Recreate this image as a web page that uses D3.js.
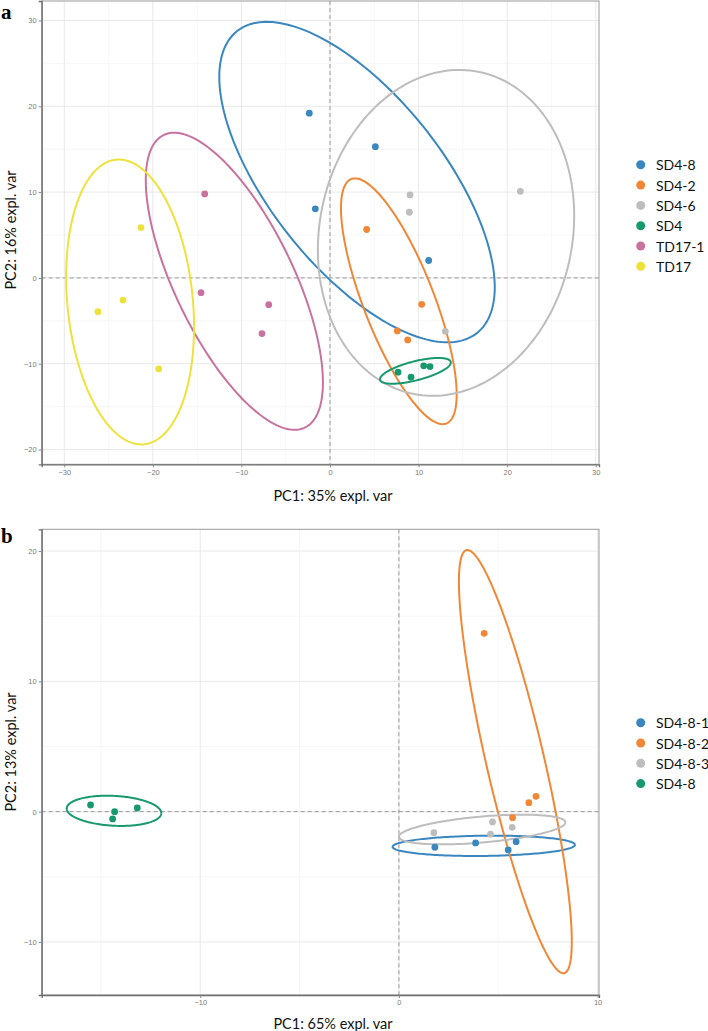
<!DOCTYPE html>
<html><head><meta charset="utf-8">
<script src="https://cdn.jsdelivr.net/npm/d3@7"></script>
<style>
html,body{margin:0;padding:0;background:#fff;}
svg{display:block;}
</style></head>
<body>
<svg id="chart" width="708" height="1031"></svg>
<script>
// ---------- Panel a data ----------
const groupsA = ["SD4-8","SD4-2","SD4-6","SD4","TD17-1","TD17"];
const colorsA = ["#3A87C0","#F08736","#BDBDBD","#18996D","#C8739F","#EDE23C"];
const ptsA_SD48  = [[-2.34,19.2],[-1.66,8.05],[5.12,15.29],[11.14,2.03]];
const ptsA_SD42  = [[4.14,5.64],[10.35,-3.08],[7.6,-6.18],[8.77,-7.23]];
const ptsA_SD46  = [[9.03,9.67],[8.96,7.65],[21.49,10.09],[13.02,-6.22]];
const ptsA_SD4   = [[7.68,-10.99],[9.15,-11.57],[10.58,-10.25],[11.29,-10.33]];
const ptsA_TD171 = [[-14.15,9.79],[-14.56,-1.72],[-6.92,-3.12],[-7.68,-6.49]];
const ptsA_TD17  = [[-21.34,5.87],[-23.37,-2.58],[-26.2,-3.93],[-19.34,-10.6]];
// ellipse: [centerX, centerY, halfWidth, halfHeight, correlation]
const ellA = [
  [3.05, 11.17, 15.55, 18.67, -0.656],
  [7.77, -2.72, 6.53, 14.32, -0.758],
  [13.1, 5.25, 14.47, 18.99, 0.104],
  [9.64, -10.83, 4.0, 1.5, 0.65],
  [-10.8, -0.39, 10.0, 17.31, -0.68],
  [-22.57, -2.8, 7.22, 16.6, -0.176]
];
const xTicksA = [-30,-20,-10,0,10,20,30];
const yTicksA = [-20,-10,0,10,20,30];
const xMinorA = [-25,-15,-5,5,15,25];
const yMinorA = [-15,-5,5,15,25];
const xDomA = [-32.55, 30.37], yDomA = [-21.72, 32.27];

// ---------- Panel b data ----------
const groupsB = ["SD4-8-1","SD4-8-2","SD4-8-3","SD4-8"];
const colorsB = ["#3A87C0","#F08736","#BDBDBD","#18996D"];
const ptsB_1 = [[1.81,-2.73],[3.86,-2.4],[5.5,-2.94],[5.9,-2.3]];
const ptsB_2 = [[4.29,13.69],[6.9,1.18],[6.54,0.69],[5.72,-0.46]];
const ptsB_3 = [[4.71,-0.79],[5.7,-1.2],[4.61,-1.73],[1.76,-1.61]];
const ptsB_4 = [[-15.52,0.51],[-14.31,0.0],[-14.41,-0.56],[-13.17,0.28]];
const ellB = [
  [4.27, -2.62, 4.59, 0.78, 0.1],
  [5.86, 3.84, 2.84, 16.24, -0.85],
  [4.19, -1.37, 4.19, 1.14, 0.48],
  [-14.34, 0.065, 2.38, 1.16, -0.15]
];
const xTicksB = [-10,0,10];
const yTicksB = [-10,0,10,20];
const xMinorB = [-15,-5,5];
const yMinorB = [-5,5,15];
const xDomB = [-17.98, 10.07], yDomB = [-14.07, 21.67];

const svg = d3.select("#chart");
const fmt = d => d < 0 ? "\u2212" + Math.abs(d) : String(d);

function ellipsePts(e){
  const [cx,cy,W,H,r] = e; const s = Math.sqrt(1-r*r);
  return d3.range(0, 201).map(i => {
    const t = i/200*2*Math.PI;
    return [cx + W*Math.cos(t), cy + H*(r*Math.cos(t) + s*Math.sin(t))];
  });
}

function panel(cfg){
  const {left,right,top,bottom,xDom,yDom,xTicks,yTicks,xMinor,yMinor,groups,colors,pts,ells,xTitle,yTitle,xTitleX,xTitleY,yTitleY,letter,letterY,legendY,clipId} = cfg;
  const x = d3.scaleLinear().domain(xDom).range([left,right]);
  const y = d3.scaleLinear().domain(yDom).range([bottom,top]);
  const g = svg.append("g");
  g.append("clipPath").attr("id",clipId).append("rect")
    .attr("x",left).attr("y",top).attr("width",right-left).attr("height",bottom-top);
  // minor grid
  g.selectAll(".mx").data(xMinor).join("line").attr("x1",d=>x(d)).attr("x2",d=>x(d))
    .attr("y1",top).attr("y2",bottom).attr("stroke","#f3f3f3").attr("stroke-width",0.7);
  g.selectAll(".my").data(yMinor).join("line").attr("y1",d=>y(d)).attr("y2",d=>y(d))
    .attr("x1",left).attr("x2",right).attr("stroke","#f3f3f3").attr("stroke-width",0.7);
  // major grid
  g.selectAll(".gx").data(xTicks).join("line").attr("x1",d=>x(d)).attr("x2",d=>x(d))
    .attr("y1",top).attr("y2",bottom).attr("stroke","#e8e8e8").attr("stroke-width",1);
  g.selectAll(".gy").data(yTicks).join("line").attr("y1",d=>y(d)).attr("y2",d=>y(d))
    .attr("x1",left).attr("x2",right).attr("stroke","#e8e8e8").attr("stroke-width",1);
  // zero dashed lines
  g.append("line").attr("x1",x(0)).attr("x2",x(0)).attr("y1",top).attr("y2",bottom)
    .attr("stroke","#9a9a9a").attr("stroke-width",1).attr("stroke-dasharray","4,3");
  g.append("line").attr("y1",y(0)).attr("y2",y(0)).attr("x1",left).attr("x2",right)
    .attr("stroke","#9a9a9a").attr("stroke-width",1).attr("stroke-dasharray","4,3");
  // ellipses
  const line = d3.line().x(d=>x(d[0])).y(d=>y(d[1]));
  const eg = g.append("g").attr("clip-path",`url(#${clipId})`);
  ells.forEach((e,i)=>{
    eg.append("path").attr("d",line(ellipsePts(e))).attr("fill","none")
      .attr("stroke",colors[i]).attr("stroke-width",2);
  });
  // points
  pts.forEach((p,i)=>{
    eg.selectAll(null).data(p).join("circle").attr("cx",d=>x(d[0])).attr("cy",d=>y(d[1]))
      .attr("r",3.4).attr("fill",colors[i]);
  });
  // border
  g.append("rect").attr("x",left).attr("y",top).attr("width",right-left).attr("height",bottom-top)
    .attr("fill","none").attr("stroke","#9a9a9a").attr("stroke-width",1);
  // axes
  const xa = g.append("g").attr("transform",`translate(0,${bottom})`)
    .call(d3.axisBottom(x).tickValues(xTicks).tickFormat(fmt).tickSize(3).tickPadding(2));
  const ya = g.append("g").attr("transform",`translate(${left},0)`)
    .call(d3.axisLeft(y).tickValues(yTicks).tickFormat(fmt).tickSize(3).tickPadding(2));
  [xa,ya].forEach(a=>{
    a.select(".domain").attr("stroke","#6e6e6e").attr("stroke-width",1.3);
    a.selectAll(".tick line").attr("stroke","#8a8a8a");
    a.selectAll(".tick text").attr("fill","#7a7a7a").style("font-family","Liberation Sans, Arial, sans-serif").style("font-size","7.5px");
  });
  // titles
  g.append("text").attr("x",xTitleX).attr("y",xTitleY).attr("text-anchor","middle")
    .attr("dominant-baseline","central")
    .style("font-family","Lato, sans-serif").style("font-size","14.5px").attr("fill","#111").text(xTitle);
  g.append("text").attr("transform",`translate(10,${yTitleY}) rotate(-90)`).attr("text-anchor","middle")
    .attr("dominant-baseline","central")
    .style("font-family","Lato, sans-serif").style("font-size","14.5px").attr("fill","#111").text(yTitle);
  g.append("text").attr("x",1).attr("y",letterY)
    .style("font-family","Liberation Serif, Times New Roman, serif").style("font-weight","bold")
    .style("font-size","21px").attr("fill","#000").text(letter);
  // legend
  const lg = g.append("g");
  groups.forEach((name,i)=>{
    const ly = legendY + i*20.3;
    lg.append("circle").attr("cx",640.7).attr("cy",ly).attr("r",4.5).attr("fill",colors[i]);
    lg.append("text").attr("x",656).attr("y",ly).attr("dominant-baseline","central")
      .style("font-family","Lato, sans-serif").style("font-size","14px").attr("fill","#111").text(name);
  });
}

panel({left:41.7,right:599,top:1,bottom:464.3,xDom:xDomA,yDom:yDomA,xTicks:xTicksA,yTicks:yTicksA,
  xMinor:xMinorA,yMinor:yMinorA,groups:groupsA,colors:colorsA,
  pts:[ptsA_SD48,ptsA_SD42,ptsA_SD46,ptsA_SD4,ptsA_TD171,ptsA_TD17],ells:ellA,
  xTitle:"PC1: 35% expl. var",yTitle:"PC2: 16% expl. var",xTitleX:333,xTitleY:495,yTitleY:230,
  letter:"a",letterY:19,legendY:164.8,clipId:"clipA"});

panel({left:41.7,right:599,top:529.3,bottom:995,xDom:xDomB,yDom:yDomB,xTicks:xTicksB,yTicks:yTicksB,
  xMinor:xMinorB,yMinor:yMinorB,groups:groupsB,colors:colorsB,
  pts:[ptsB_1,ptsB_2,ptsB_3,ptsB_4],ells:ellB,
  xTitle:"PC1: 65% expl. var",yTitle:"PC2: 13% expl. var",xTitleX:333,xTitleY:1023,yTitleY:752,
  letter:"b",letterY:543,legendY:722.7,clipId:"clipB"});
</script>
</body></html>
